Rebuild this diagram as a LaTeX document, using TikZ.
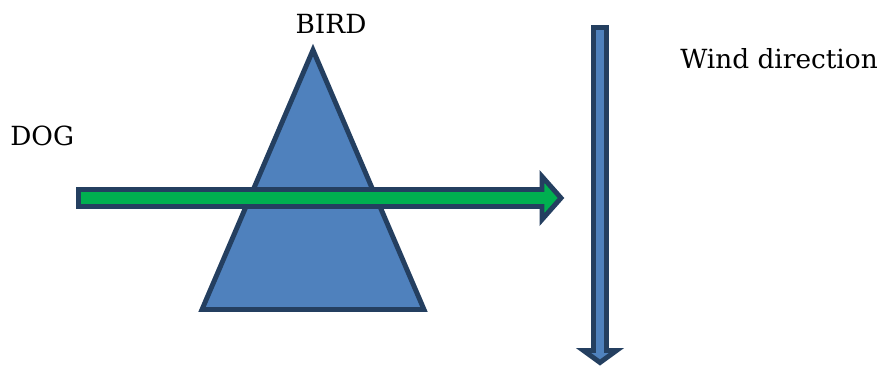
\documentclass[tikz,border=0pt]{standalone}
\usepackage{fontspec}
\setmainfont{DejaVu Serif}
\usepackage{xcolor}
\usepackage{tikz}
\definecolor{shapefill}{HTML}{4F81BD}
\definecolor{shapeedge}{HTML}{243F60}
\definecolor{arrowgreen}{HTML}{00B050}

\begin{document}
\begin{tikzpicture}[x=0.02cm, y=-0.02cm]
    % Canvas
    \useasboundingbox (0,0) rectangle (887,366);
    % Triangle
    \filldraw[fill=shapefill, draw=shapeedge, line width=2.8pt] (313,50) -- (424,309.5) -- (202,309.5) -- cycle;
    % Green arrow
    \filldraw[fill=arrowgreen, draw=shapeedge, line width=2.8pt] (78.5,189.5) -- (542,189.5) -- (542,176.5) -- (561,198) -- (542,219.5) -- (542,206.5) -- (78.5,206.5) -- cycle;
    % Wind arrow
    \filldraw[fill=shapefill, draw=shapeedge, line width=2.8pt] (593.5,27.5) -- (606.5,27.5) -- (606.5,350.5) -- (616.5,350.5) -- (600,362.5) -- (583.5,350.5) -- (593.5,350.5) -- cycle;
    % Labels
    \node[font=\fontsize{15}{17}\selectfont, inner sep=0pt, anchor=base] (bird) at (331,33) {BIRD};
    \node[font=\fontsize{15}{17}\selectfont, inner sep=0pt, anchor=base west] (dog) at (10,145) {DOG};
    \node[font=\fontsize{15}{17}\selectfont, inner sep=0pt, anchor=base west] (wind) at (680,68) {Wind direction};
\end{tikzpicture}
\end{document}
